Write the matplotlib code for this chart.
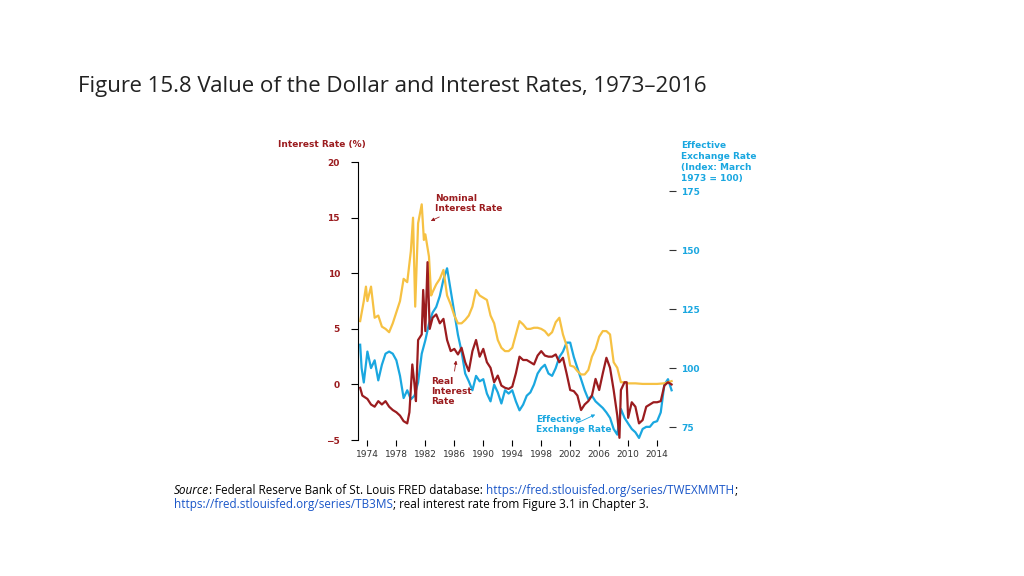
import numpy as np
import matplotlib
matplotlib.use("Agg")
import matplotlib.pyplot as plt

years_fx = [1973.0, 1973.2, 1973.5, 1974, 1974.5, 1975, 1975.5, 1976, 1976.5, 1977, 1977.5, 1978, 1978.5,
            1979, 1979.5, 1980, 1980.5, 1981, 1981.5, 1982, 1982.5, 1983, 1983.5, 1984, 1984.5, 1985, 1985.5,
            1986, 1986.5, 1987, 1987.5, 1988, 1988.5, 1989, 1989.5, 1990, 1990.5, 1991, 1991.5, 1992, 1992.5,
            1993, 1993.5, 1994, 1994.5, 1995, 1995.5, 1996, 1996.5, 1997, 1997.5, 1998, 1998.5, 1999, 1999.5,
            2000, 2000.5, 2001, 2001.5, 2002, 2002.5, 2003, 2003.5, 2004, 2004.5, 2005, 2005.5, 2006, 2006.5,
            2007, 2007.5, 2008, 2008.5, 2009, 2009.5, 2010, 2010.5, 2011, 2011.5, 2012, 2012.5, 2013, 2013.5,
            2014, 2014.5, 2015, 2015.5, 2016]
exchange = [109.9, 100, 93.9, 107, 100, 103.3, 94.8, 101.4, 106.1, 107, 106.1, 103.3, 96.7,
            87.3, 90.6, 86.8, 88.3, 93.9, 106.1, 111.8, 118.8, 123.5, 125.9, 130.6, 137.6, 142.3, 132.9,
            123.5, 114.1, 107, 97.7, 94.4, 90.6, 96.7, 94.4, 95.3, 89.2, 85.9, 93, 89.7, 85,
            90.6, 89.2, 90.6, 85.9, 82.1, 84.5, 88.3, 89.7, 93, 97.7, 100, 101.4, 97.7, 96.7,
            100, 104.7, 107, 110.8, 110.8, 104.7, 100, 95.3, 90.6, 86.8, 88.3, 85.9, 84.5, 83.1,
            81.2, 78.9, 74.2, 71.8, 82.7, 78.9, 76.5, 74.2, 72.8, 70.4, 74.2, 75.1, 75.1, 77,
            77.5, 81.2, 93, 95.3, 90.6]

years_nom = [1973.0, 1973.5, 1973.8, 1974, 1974.5, 1975, 1975.5, 1976, 1976.5, 1977, 1977.5, 1978, 1978.5,
             1979, 1979.5, 1980, 1980.3, 1980.6, 1981, 1981.5, 1981.8, 1982, 1982.5, 1982.8, 1983, 1983.5,
             1984, 1984.5, 1985, 1985.5, 1986, 1986.5, 1987, 1987.5, 1988, 1988.5, 1989, 1989.5, 1990, 1990.5,
             1991, 1991.5, 1992, 1992.5, 1993, 1993.5, 1994, 1994.5, 1995, 1995.5, 1996, 1996.5, 1997, 1997.5,
             1998, 1998.5, 1999, 1999.5, 2000, 2000.5, 2001, 2001.5, 2002, 2002.5, 2003, 2003.5, 2004, 2004.5,
             2005, 2005.5, 2006, 2006.5, 2007, 2007.5, 2008, 2008.5, 2009, 2009.5, 2010, 2011, 2012, 2013,
             2014, 2015, 2015.5, 2016]
nominal = [5.7, 7.5, 8.8, 7.5, 8.8, 6.0, 6.2, 5.2, 5.0, 4.7, 5.5, 6.5, 7.5,
           9.5, 9.2, 12.0, 15.0, 7.0, 14.5, 16.2, 13.0, 13.5, 11.5, 8.0, 8.3, 9.0,
           9.5, 10.3, 8.0, 7.2, 6.2, 5.5, 5.5, 5.8, 6.2, 7.0, 8.5, 8.0, 7.8, 7.6,
           6.2, 5.5, 4.0, 3.3, 3.0, 3.0, 3.3, 4.5, 5.7, 5.4, 5.0, 5.0, 5.1, 5.1,
           5.0, 4.8, 4.4, 4.7, 5.6, 6.0, 4.5, 3.5, 1.7, 1.6, 1.2, 0.9, 0.9, 1.3,
           2.5, 3.2, 4.3, 4.8, 4.8, 4.5, 2.0, 1.5, 0.2, 0.2, 0.1, 0.1, 0.05, 0.05,
           0.05, 0.1, 0.2, 0.3]

years_real = [1973.0, 1973.3, 1974, 1974.5, 1975, 1975.5, 1976, 1976.5, 1977, 1977.5, 1978, 1978.5,
              1979, 1979.5, 1979.8, 1980.2, 1980.5, 1980.7, 1981, 1981.5, 1981.7, 1982, 1982.3, 1982.6,
              1983, 1983.5, 1984, 1984.5, 1985, 1985.5, 1986, 1986.5, 1987, 1987.5, 1988, 1988.5, 1989,
              1989.5, 1990, 1990.5, 1991, 1991.5, 1992, 1992.5, 1993, 1993.5, 1994, 1994.5, 1995, 1995.5,
              1996, 1996.5, 1997, 1997.5, 1998, 1998.5, 1999, 1999.5, 2000, 2000.5, 2001, 2001.5, 2002,
              2002.5, 2003, 2003.5, 2004, 2004.5, 2005, 2005.5, 2006, 2006.5, 2007, 2007.5, 2008, 2008.5,
              2008.8, 2009, 2009.5, 2009.8, 2010, 2010.5, 2011, 2011.5, 2012, 2012.5, 2013, 2013.5, 2014,
              2014.5, 2015, 2015.5, 2016]
real = [-0.3, -1.0, -1.3, -1.8, -2.0, -1.5, -1.8, -1.5, -2.0, -2.3, -2.5, -2.8,
        -3.3, -3.5, -2.5, 1.8, 0.0, -1.5, 4.0, 4.5, 8.5, 4.8, 11.0, 5.0,
        6.0, 6.3, 5.5, 5.9, 4.0, 3.0, 3.2, 2.7, 3.3, 2.0, 1.2, 3.0, 4.0,
        2.5, 3.2, 2.0, 1.5, 0.2, 0.8, -0.1, -0.3, -0.4, -0.2, 1.0, 2.5, 2.2,
        2.2, 2.0, 1.8, 2.6, 3.0, 2.6, 2.5, 2.5, 2.7, 2.0, 2.4, 1.0, -0.5,
        -0.6, -1.0, -2.3, -1.8, -1.5, -1.0, 0.5, -0.5, 1.0, 2.4, 1.5, -0.5, -2.8,
        -4.8, -0.5, 0.2, 0.2, -3.0, -1.6, -2.0, -3.5, -3.2, -2.0, -1.8, -1.6, -1.6,
        -1.5, -0.1, 0.2, 0.0]

left_ticks = [-5, 0, 5, 10, 15, 20]
right_ticks = [75, 100, 125, 150, 175]
x_ticks = list(range(1974, 2015, 4))

RED = "#9b1c1f"
BLUE = "#1aa7e0"
YEL = "#f6c143"

fig = plt.figure(figsize=(10.24, 5.76), dpi=100)
ax = fig.add_axes([0.3496, 0.236, 0.3105, 0.4826])
ax.plot(years_nom, nominal, color=YEL, lw=1.6)
ax.plot(years_real, real, color=RED, lw=1.6)
ax.set_xlim(1972.7, 2016.6)
ax.set_ylim(-5, 20)
ax.set_yticks(left_ticks)
ax.set_xticks(x_ticks)
ax.tick_params(axis="y", colors=RED, labelsize=6.5, length=5, direction="out", pad=8)
ax.tick_params(axis="y", color="black")
ax.tick_params(axis="x", labelsize=6.5, labelcolor="#333333", length=4, direction="out")
for lab in ax.get_yticklabels():
    lab.set_fontweight("bold")
for s in ["top", "right", "bottom"]:
    ax.spines[s].set_visible(False)

ax2 = ax.twinx()
ax2.plot(years_fx, exchange, color=BLUE, lw=1.6, zorder=1)
ax.set_zorder(2); ax.patch.set_visible(False)
ax2.set_ylim(69.5, 187.3)
ax2.set_yticks(right_ticks)
ax2.tick_params(axis="y", colors=BLUE, labelsize=6.5, length=5, direction="in", pad=4)
ax2.tick_params(axis="y", color="#333333")
for lab in ax2.get_yticklabels():
    lab.set_fontweight("bold")
for s in ["top", "right", "left", "bottom"]:
    ax2.spines[s].set_visible(False)

fig.text(0.271, 0.745, "Interest Rate (%)", color=RED, fontsize=6.5, fontweight="bold")
fig.text(0.665, 0.686, "Effective\nExchange Rate\n(Index: March\n1973 = 100)", color=BLUE,
         fontsize=6.5, fontweight="bold", linespacing=1.3)

ax.annotate("Nominal\nInterest Rate", xy=(1982.4, 14.6), xytext=(1983.3, 15.6), color=RED,
            fontsize=6.5, fontweight="bold", arrowprops=dict(arrowstyle="-|>", color=RED, lw=0.6, mutation_scale=5))
ax.annotate("Real\nInterest\nRate", xy=(1986.3, 2.4), xytext=(1982.8, -1.8), color=RED,
            fontsize=6.5, fontweight="bold", arrowprops=dict(arrowstyle="-|>", color=RED, lw=0.6, mutation_scale=5))
ax.annotate("Effective\nExchange Rate", xy=(2005.8, -2.6), xytext=(1997.3, -4.3), color=BLUE,
            fontsize=6.5, fontweight="bold", arrowprops=dict(arrowstyle="-|>", color=BLUE, lw=0.6, mutation_scale=5))

fig.text(0.076, 0.84, "Figure 15.8 Value of the Dollar and Interest Rates, 1973\u20132016",
         fontsize=16, family="Open Sans", color="#222222")

# source lines placed piece by piece
renderer = fig.canvas.get_renderer()
def line(pieces, x0, y0):
    x = x0
    for txt, kw in pieces:
        t = fig.text(x, y0, txt, fontsize=8.5, family="Open Sans", **kw)
        bb = t.get_window_extent(renderer=renderer)
        x += bb.width / fig.bbox.width
LINK = dict(color="#1a56c8")
line([("Source", dict(style="italic")),
      (": Federal Reserve Bank of St. Louis FRED database: ", {}),
      ("https://fred.stlouisfed.org/series/TWEXMMTH", LINK),
      (";", {})], 0.17, 0.142)
line([("https://fred.stlouisfed.org/series/TB3MS", LINK),
      ("; real interest rate from Figure 3.1 in Chapter 3.", {})], 0.17, 0.118)

fig.savefig("out.png", dpi=100, facecolor="white")
